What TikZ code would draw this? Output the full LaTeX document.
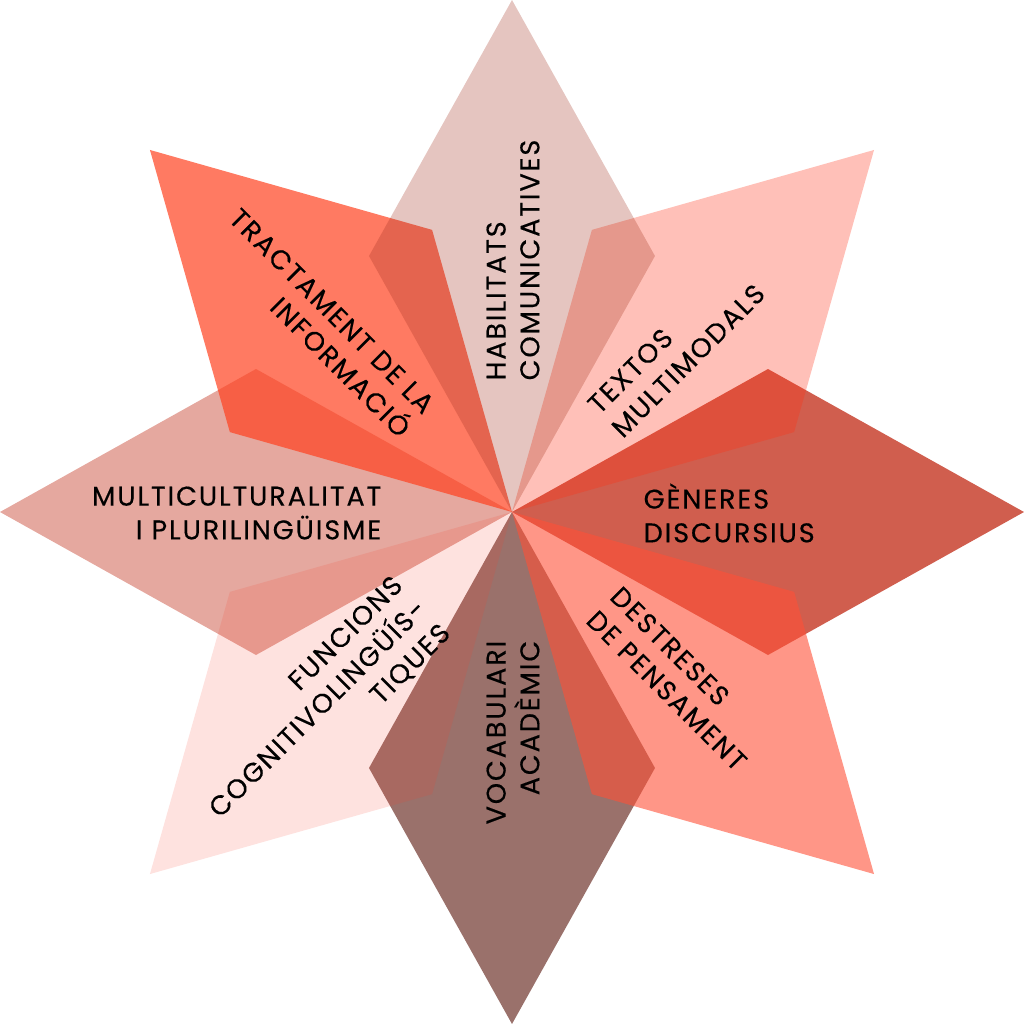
\documentclass[tikz,border=0pt]{standalone}
\usepackage{fontspec}
\setmainfont{Poppins}[LetterSpace=7, FakeBold=0.35]
\usepackage{tikz}
\usetikzlibrary{positioning}
% base colours of the points (the upper ones are see-through)
\definecolor{multicol}{HTML}{E5A89F}
\definecolor{vocabcol}{HTML}{9A716B}
\definecolor{generescol}{HTML}{D05E4E}
\definecolor{textoscol}{HTML}{FF3013}
\definecolor{tractcol}{HTML}{FF411F}
\definecolor{funccol}{HTML}{F83D2B}
\definecolor{destrcol}{HTML}{FF5037}
\definecolor{habilcol}{HTML}{A2301E}

\begin{document}
\begin{tikzpicture}[
  every node/.style = {font=\fontsize{7.7}{9.6}\selectfont, text=black, inner sep=0pt}
  ]
  \useasboundingbox (-5.12,-5.12) rectangle (5.12,5.12);
  % the eight points of the star
  \foreach \ang/\col/\op in {180/multicol/1, -90/vocabcol/1, 0/generescol/1,
                             45/textoscol/0.3, 135/tractcol/0.7, -135/funccol/0.15,
                             -45/destrcol/0.6, 90/habilcol/0.28}
    \fill[\col, fill opacity=\op, rotate=\ang]
      (0,0) -- (2.56,1.43) -- (5.12,0) -- (2.56,-1.43) -- cycle;
  % labels
  \node[rotate=90, anchor=west, align=left] (habil) at (0.01,1.31)
    {HABILITATS\\COMUNICATIVES};
  \node[rotate=45, anchor=west, align=left] (textos) at (0.92,0.91)
    {TEXTOS\\MULTIMODALS};
  \node[anchor=west, align=left] (generes) at (1.31,-0.01)
    {GÈNERES\\DISCURSIUS};
  \node[rotate=-45, anchor=west, align=left] (destreses) at (0.91,-0.91)
    {DESTRESES\\DE PENSAMENT};
  \node[rotate=90, anchor=east, align=right] (vocab) at (0.01,-1.28)
    {VOCABULARI\\ACADÈMIC};
  \node[rotate=45, anchor=east, align=right] (funcions) at (-0.89,-0.93)
    {FUNCIONS\\COGNITIVOLINGÜÍS-\\TIQUES};
  \node[anchor=east, align=right] (multi) at (-1.30,-0.01)
    {MULTICULTURALITAT\\I PLURILINGÜISME};
  \node[rotate=-45, anchor=east, align=right] (tract) at (-0.94,0.91)
    {TRACTAMENT DE LA\\INFORMACIÓ};
\end{tikzpicture}
\end{document}
